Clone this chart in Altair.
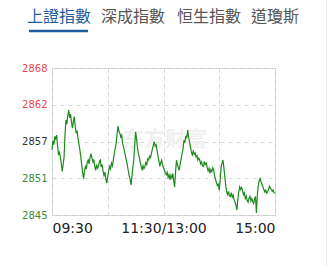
import altair as alt
import pandas as pd

# minute index from 09:30 (0) to 15:00 (240), lunch break collapsed
minutes = list(range(241))
prices = [
    2855.2, 2856.6, 2856.0, 2857.3, 2856.9, 2857.5, 2855.8, 2854.4, 2854.8, 2854.1,
    2853.0, 2851.8, 2852.9, 2854.1, 2857.5, 2859.9, 2859.2, 2860.6, 2861.4, 2860.2,
    2860.8, 2859.5, 2858.6, 2859.7, 2860.4, 2858.9, 2857.8, 2858.2, 2857.0, 2856.1,
    2855.2, 2854.1, 2852.8, 2851.6, 2850.7, 2851.9, 2852.6, 2852.2, 2853.3, 2853.6,
    2853.0, 2854.0, 2854.6, 2853.9, 2853.3, 2853.7, 2852.6, 2852.0, 2852.9, 2852.3,
    2852.6, 2853.4, 2853.6, 2852.5, 2852.9, 2851.8, 2851.2, 2851.7, 2850.6, 2850.0,
    2851.1, 2851.9, 2852.6, 2852.2, 2853.1, 2852.7, 2853.6, 2854.6, 2855.4, 2856.2,
    2857.6, 2858.9, 2858.1, 2857.8, 2857.2, 2857.5, 2856.2, 2855.6, 2854.9, 2854.3,
    2853.6, 2852.9, 2852.0, 2851.2, 2850.6, 2849.7, 2851.0, 2852.4, 2853.6, 2856.0,
    2858.0, 2856.9, 2855.5, 2854.6, 2854.0, 2853.2, 2852.6, 2852.0, 2852.7, 2852.3,
    2852.6, 2853.2, 2852.9, 2853.8, 2853.6, 2854.2, 2854.0, 2854.6, 2855.3, 2855.9,
    2856.5, 2855.8, 2856.0, 2855.2, 2854.3, 2853.5, 2852.6, 2853.2, 2853.6, 2852.8,
    2852.4, 2852.0, 2851.6, 2851.3, 2851.7, 2850.9, 2851.3, 2850.5, 2851.2, 2850.8,
    2851.5, 2850.3, 2849.4, 2851.8, 2853.6, 2852.9, 2852.4, 2852.0, 2853.0, 2853.8,
    2854.6, 2855.3, 2856.7, 2856.3, 2857.4, 2857.0, 2858.3, 2857.2, 2856.4, 2855.7,
    2854.8, 2854.4, 2855.0, 2854.5, 2854.7, 2854.1, 2854.3, 2853.6, 2853.9, 2853.6,
    2853.0, 2853.3, 2852.7, 2852.6, 2853.4, 2852.9, 2853.1, 2852.4, 2851.9, 2852.3,
    2851.5, 2852.1, 2851.8, 2852.4, 2852.0, 2851.1, 2850.6, 2850.0, 2849.6, 2849.8,
    2848.9, 2850.5, 2852.4, 2853.1, 2853.6, 2852.4, 2851.0, 2849.6, 2848.6, 2848.2,
    2848.7, 2848.0, 2847.9, 2848.5, 2847.8, 2848.1, 2847.4, 2847.0, 2846.5, 2845.8,
    2847.4, 2848.6, 2849.4, 2849.0, 2849.3, 2848.9, 2848.2, 2848.5, 2847.6, 2848.0,
    2847.3, 2847.0, 2847.6, 2847.9, 2847.2, 2847.6, 2847.1, 2846.8, 2847.5, 2847.9,
    2845.3, 2848.2, 2849.6, 2850.4, 2850.7, 2850.2, 2849.8, 2849.4, 2849.0, 2848.6,
    2848.9, 2848.4, 2848.6, 2849.0, 2849.5, 2849.2, 2849.0, 2848.7, 2848.9, 2848.5,
    2848.4,
]

tabs = ["上證指數", "深成指數", "恒生指數", "道瓊斯"]
y_ticks = [2845, 2850.75, 2856.5, 2862.25, 2868]
prev_close = 2856.5
x_ticks = [0, 60, 120, 180, 240]
watermark = "东方财富"

df = pd.DataFrame({"m": minutes, "p": prices})

label_expr = ("datum.value == 0 ? '09:30' : datum.value == 120 ? '11:30/13:00' : "
              "datum.value == 240 ? '15:00' : ''")
color_expr = ("datum.value > %s + 0.1 ? '#e8474a' : datum.value < %s - 0.1 ? '#3a8a3a' : '#333333'"
              % (prev_close, prev_close))

line = alt.Chart(df).mark_line(color="#1e8a1e", strokeWidth=1.2).encode(
    x=alt.X("m:Q",
            scale=alt.Scale(domain=[0, 240], nice=False, zero=False),
            axis=alt.Axis(values=x_ticks, labelExpr=label_expr, labelFlush=True,
                          grid=True, gridDash=[4, 4], gridColor="#d9d9d9",
                          domain=False, ticks=False, labelFont="DejaVu Sans",
                          labelFontSize=14, labelColor="#222222", labelPadding=6,
                          title=None)),
    y=alt.Y("p:Q",
            scale=alt.Scale(domain=[2845, 2868], nice=False, zero=False),
            axis=alt.Axis(values=y_ticks, format=".0f", labelColor={"expr": color_expr},
                          grid=True, gridDash=[4, 4], gridColor="#d9d9d9",
                          domain=False, ticks=False, labelFont="DejaVu Sans",
                          labelFontSize=10, labelPadding=5, title=None)),
)

wm = alt.Chart(pd.DataFrame({"t": [watermark]})).mark_text(
    font="Noto Sans CJK SC", fontSize=21, fontWeight="bold", color="#f0f0f0",
    align="center", baseline="middle"
).encode(x=alt.value(113), y=alt.value(72), text="t:N")

layers = [wm, line]

tab_x = [-25, 49, 125, 199]
for i, t in enumerate(tabs):
    layers.append(
        alt.Chart(pd.DataFrame({"t": [t]})).mark_text(
            font="Noto Sans CJK TC", fontSize=16, align="left", baseline="middle",
            color="#1f5c9e" if i == 0 else "#555555"
        ).encode(x=alt.value(tab_x[i]), y=alt.value(-51.5), text="t:N")
    )

underline = alt.Chart(pd.DataFrame({"a": [0]})).mark_rule(color="#1f5c9e", strokeWidth=2.5).encode(
    x=alt.value(-23), x2=alt.value(36), y=alt.value(-37))
edge = alt.Chart(pd.DataFrame({"a": [0]})).mark_rule(color="#eeeeee", strokeWidth=1).encode(
    x=alt.value(274.5), y=alt.value(-68), y2=alt.value(198))
layers += [underline, edge]

chart = alt.layer(*layers).properties(
    width=223, height=147,
    autosize=alt.AutoSizeParams(type="none"),
    padding={"left": 52, "top": 68, "right": 53, "bottom": 51},
    background="white",
).configure_view(stroke="#cccccc", strokeWidth=1)

chart.save("out.html", embed_options={"renderer": "svg", "actions": False})
